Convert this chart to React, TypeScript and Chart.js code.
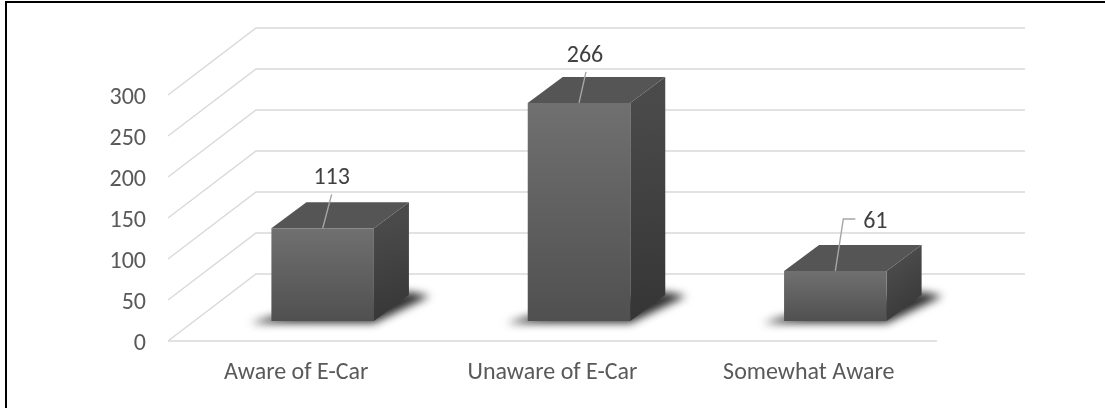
import React, { useEffect, useRef } from "react";
import { Chart, registerables } from "chart.js";

Chart.register(...registerables);

const categories = ["Aware of E-Car", "Unaware of E-Car", "Somewhat Aware"];
const counts = [113, 266, 61];
const FONT = "Carlito, Lato, sans-serif";

// Oblique projection of the chart's floor depth, in pixels.
const WALL_DX = 88;
const WALL_DY = 67;
const BAR_OFFSET_X = 26.5;
const BAR_OFFSET_Y = 20;
const BAR_DX = 35;
const BAR_DY = 26;

// Callout geometry per bar, relative to the middle of the bar's top front edge.
const callouts = [
  { leader: [[9, -34]], label: [9, -50] },
  { leader: [[7, -31]], label: [6, -47] },
  { leader: [[8, -52], [20, -52]], label: [40, -49] },
];

function poly(ctx: CanvasRenderingContext2D, pts: number[][], fill: string | CanvasGradient) {
  ctx.beginPath();
  pts.forEach(([x, y], i) => (i ? ctx.lineTo(x, y) : ctx.moveTo(x, y)));
  ctx.closePath();
  ctx.fillStyle = fill;
  ctx.fill();
}

const box3d = {
  id: "box3d",
  beforeDraw(chart: any) {
    const { ctx, width, height } = chart;
    ctx.save();
    ctx.fillStyle = "#fff";
    ctx.fillRect(0, 0, width, height);
    ctx.restore();
  },
  // Receding grid: floor edge plus a line per tick along the side and back walls.
  beforeDatasetsDraw(chart: any) {
    const { ctx, scales } = chart;
    const { x, y } = scales;
    ctx.save();
    ctx.strokeStyle = "#d9d9d9";
    ctx.lineWidth = 1.4;
    y.ticks.forEach((t: any) => {
      const py = y.getPixelForValue(t.value);
      ctx.beginPath();
      ctx.moveTo(x.left, py);
      ctx.lineTo(x.left + WALL_DX, py - WALL_DY);
      ctx.lineTo(x.right + WALL_DX, py - WALL_DY);
      ctx.stroke();
    });
    ctx.beginPath();
    ctx.moveTo(x.left, y.bottom);
    ctx.lineTo(x.right, y.bottom);
    ctx.stroke();
    ctx.restore();
  },
  // Shadow, top and side faces sit behind the native bar, which is shifted onto the front plane.
  beforeDatasetDraw(chart: any) {
    const { ctx } = chart;
    const bars = chart.getDatasetMeta(0).data;
    ctx.save();
    bars.forEach((bar: any) => {
      const l = bar.x - bar.width / 2 + BAR_OFFSET_X;
      const r = bar.x + bar.width / 2 + BAR_OFFSET_X;
      const t = bar.y - BAR_OFFSET_Y;
      const b = bar.base - BAR_OFFSET_Y;
      ctx.save();
      ctx.filter = "blur(4.5px)";
      poly(ctx, [[l - 21, b + 2], [r, b + 2], [r + BAR_DX + 21, b - BAR_DY + 1], [r + BAR_DX, b - BAR_DY - 3], [l, b - 4]], "#2e2e2e");
      ctx.restore();
      const side = ctx.createLinearGradient(r, t, r + BAR_DX, b);
      side.addColorStop(0, "#4a4a4a");
      side.addColorStop(1, "#353535");
      poly(ctx, [[r, t], [r + BAR_DX, t - BAR_DY], [r + BAR_DX, b - BAR_DY], [r, b]], side);
      poly(ctx, [[l, t], [l + BAR_DX, t - BAR_DY], [r + BAR_DX, t - BAR_DY], [r, t]], "#555555");
    });
    ctx.restore();
    ctx.save();
    ctx.translate(BAR_OFFSET_X, -BAR_OFFSET_Y);
  },
  afterDatasetDraw(chart: any) {
    chart.ctx.restore();
  },
  // Value labels with their leader lines, and the outer rules.
  afterDatasetsDraw(chart: any) {
    const { ctx } = chart;
    const bars = chart.getDatasetMeta(0).data;
    ctx.save();
    ctx.font = `24px ${FONT}`;
    ctx.fillStyle = "#404040";
    ctx.textAlign = "center";
    ctx.textBaseline = "middle";
    ctx.strokeStyle = "#a6a6a6";
    ctx.lineWidth = 1.4;
    bars.forEach((bar: any, i: number) => {
      const ax = bar.x + BAR_OFFSET_X;
      const ay = bar.y - BAR_OFFSET_Y;
      const c = callouts[i];
      ctx.beginPath();
      ctx.moveTo(ax, ay);
      c.leader.forEach(([dx, dy]) => ctx.lineTo(ax + dx, ay + dy));
      ctx.stroke();
      ctx.fillText(String(counts[i]), ax + c.label[0], ay + c.label[1]);
    });
    ctx.restore();
    ctx.save();
    ctx.fillStyle = "#000";
    ctx.fillRect(5, 1, 1100, 2);
    ctx.fillRect(5, 1, 2, 407);
    ctx.restore();
  },
};

export default function App() {
  const ref = useRef<HTMLCanvasElement>(null);
  useEffect(() => {
    const canvas = ref.current!;
    const g = canvas.getContext("2d")!;
    const chart = new Chart(canvas, {
      type: "bar",
      data: {
        labels: categories,
        datasets: [
          {
            data: counts,
            barPercentage: 0.4,
            categoryPercentage: 1,
            borderWidth: 0,
            // The front face fades downward over the bar's own height.
            backgroundColor: (c: any) => {
              const y = c.chart.scales?.y;
              if (!y || !Number.isFinite(y.bottom) || y.bottom === y.top || !c.parsed) return "#606060";
              const grad = g.createLinearGradient(0, y.getPixelForValue(c.parsed.y), 0, y.bottom);
              grad.addColorStop(0, "#707070");
              grad.addColorStop(1, "#505050");
              return grad;
            },
          },
        ],
      },
      options: {
        responsive: false,
        animation: false,
        layout: { padding: { left: 0, top: 95, right: 1105 - 937, bottom: 0 } },
        plugins: { legend: { display: false }, tooltip: { enabled: false } },
        scales: {
          x: {
            afterFit: (s: any) => { s.height = 408 - 341; },
            grid: { display: false },
            border: { display: false },
            ticks: { color: "#595959", font: { family: FONT, size: 24 }, padding: 10, maxRotation: 0 },
          },
          y: {
            afterFit: (s: any) => {
              s.width = 168;
              // Nudge the tick text so its digits centre on the grid line ends.
              if (!s.__nudged) {
                s.__nudged = true;
                const draw = s.drawLabels;
                s.drawLabels = function (area: any) {
                  this.ctx.save();
                  this.ctx.translate(0, 2.5);
                  draw.call(this, area);
                  this.ctx.restore();
                };
              }
            },
            min: 0,
            max: 300,
            grid: { display: false },
            border: { display: false },
            ticks: { stepSize: 50, color: "#595959", font: { family: FONT, size: 24 }, padding: 14 },
          },
        },
      },
      plugins: [box3d],
    });
    return () => chart.destroy();
  }, []);
  return (
    <div style={{ position: "fixed", left: 0, top: 0, width: 1105, height: 408 }}>
      <canvas ref={ref} width={1105} height={408} style={{ display: "block" }} />
    </div>
  );
}
